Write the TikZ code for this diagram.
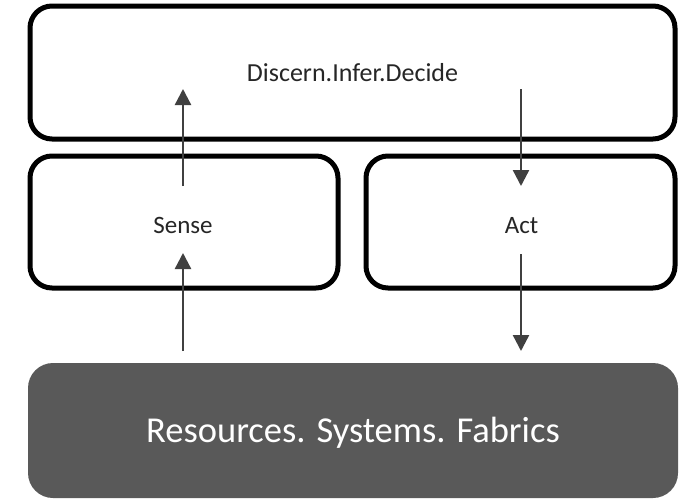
\documentclass[tikz,border=0pt]{standalone}
\usepackage{fontspec}
\setmainfont{Carlito}
\usetikzlibrary{arrows.meta}
\definecolor{fabric}{HTML}{595959}
\definecolor{arrowc}{HTML}{404040}
\definecolor{txt}{HTML}{262626}
\begin{document}
\begin{tikzpicture}[x=1pt,y=-1pt,
  box/.style={draw=black,line width=5pt,rounded corners=22pt,fill=white},
  flow/.style={draw=arrowc,line width=2.4pt,-{Triangle[length=16pt,width=16pt]}},
  lbl/.style={text=txt,anchor=base,inner sep=0pt,font=\fontsize{25}{30}\selectfont}]
\useasboundingbox (0,0) rectangle (690,498);
\draw[box] (30,6) rectangle (675,139);
\draw[box] (30,156) rectangle (338,288);
\draw[box] (366,156) rectangle (675,288);
\fill[fabric,rounded corners=25pt] (28,363) rectangle (678,498);
\node[lbl,font=\fontsize{26}{30}\selectfont] (top) at (352.5,81) {Discern.Infer.Decide};
\node[lbl] (sense) at (183,233) {Sense};
\node[lbl] (act) at (521.5,233) {Act};
\node[text=white,anchor=base,inner sep=0pt,font=\fontsize{36.5}{44}\selectfont] (res) at (353,442) {Resources. Systems. Fabrics};
\coordinate (a1s) at (183,186); \coordinate (a1e) at (183,89);
\coordinate (a2s) at (183,351); \coordinate (a2e) at (183,253);
\coordinate (a3s) at (521,89);  \coordinate (a3e) at (521,186);
\coordinate (a4s) at (521,254); \coordinate (a4e) at (521,351);
\draw[flow] (a1s) -- (a1e);
\draw[flow] (a2s) -- (a2e);
\draw[flow] (a3s) -- (a3e);
\draw[flow] (a4s) -- (a4e);
\end{tikzpicture}
\end{document}
